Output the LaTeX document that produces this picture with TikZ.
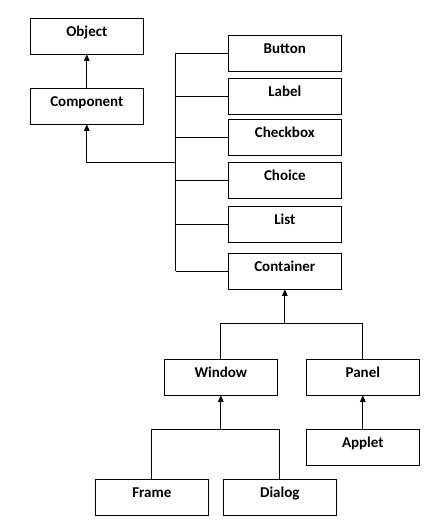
\documentclass[tikz,border=0pt]{standalone}
\usepackage{fontspec}
\setmainfont{Carlito}
\usetikzlibrary{
  positioning,
  calc,
  arrows.meta}
\tikzset{
  %% classbox : a class of the hierarchy
  classbox/.style={
    rectangle,
    draw=black,
    line width=0.9pt,
    minimum width=113pt,
    inner xsep=0pt,
    inner ysep=0pt,
    outer sep=0pt,
    text height=18.4pt,
    text depth=17.6pt,
    font=\fontsize{15}{17}\selectfont\bfseries,
    align=center
  },
  %% link : plain connection line
  link/.style={
    line width=0.9pt
  },
  %% inherit : line ending at the parent class
  inherit/.style={
    line width=0.9pt,
    -{Triangle[width=5.5pt,length=6.5pt]}
  }
}

\begin{document}
\begin{tikzpicture}
  [x=1pt,
  y=-1pt]

  \useasboundingbox (0,0) rectangle (445,529);

  %% top classes
  \node (object) [classbox] at (86.8, 36.3) {Object};
  \node (component) [below=34pt of object, classbox] {Component};


  %% component subclasses
  \node (button) [classbox] at (284.8, 53.3) {Button};
  \node (label) [below=7pt of button, classbox] {Label};
  \node (checkbox) [below=5pt of label, classbox] {Checkbox};
  \node (choice) [below=7pt of checkbox, classbox] {Choice};
  \node (list) [below=8pt of choice, classbox] {List};
  \node (container) [below=11pt of list, classbox] {Container};


  %% container subclasses
  \node (window) [classbox] at (220.8, 377.3) {Window};
  \node (panel) [classbox] at (362.8, 377.3) {Panel};
  \node (applet) [below=34pt of panel, classbox] {Applet};


  %% window subclasses
  \node (frame) [classbox] at (151.8, 497.3) {Frame};
  \node (dialog) [classbox] at (279.8, 497.3) {Dialog};


  %% Connections
  \draw [inherit] (component) -- (object);

  % bus of the component subclasses
  \coordinate (bus) at (175.7, 162.3);
  \draw [link] (button.west -| bus) -- (container.west -| bus);
  \draw [link] (button.west) -- (button.west -| bus);
  \draw [link] (label.west) -- (label.west -| bus);
  \draw [link] (checkbox.west) -- (checkbox.west -| bus);
  \draw [link] (choice.west) -- (choice.west -| bus);
  \draw [link] (list.west) -- (list.west -| bus);
  \draw [link] (container.west) -- (container.west -| bus);
  \draw [inherit] (bus) -| (component.south);

  % container split
  \coordinate (split_cont) at ([yshift=-34pt]container.south);
  \draw [link] (window.north) |- (split_cont) -| (panel.north);
  \draw [inherit] (split_cont) -- (container.south);

  \draw [inherit] (applet) -- (panel);

  % window split
  \coordinate (split_win) at ([yshift=-34pt]window.south);
  \draw [link] (frame.north) |- (split_win) -| (dialog.north);
  \draw [inherit] (split_win) -- (window.south);

\end{tikzpicture}
\end{document}
